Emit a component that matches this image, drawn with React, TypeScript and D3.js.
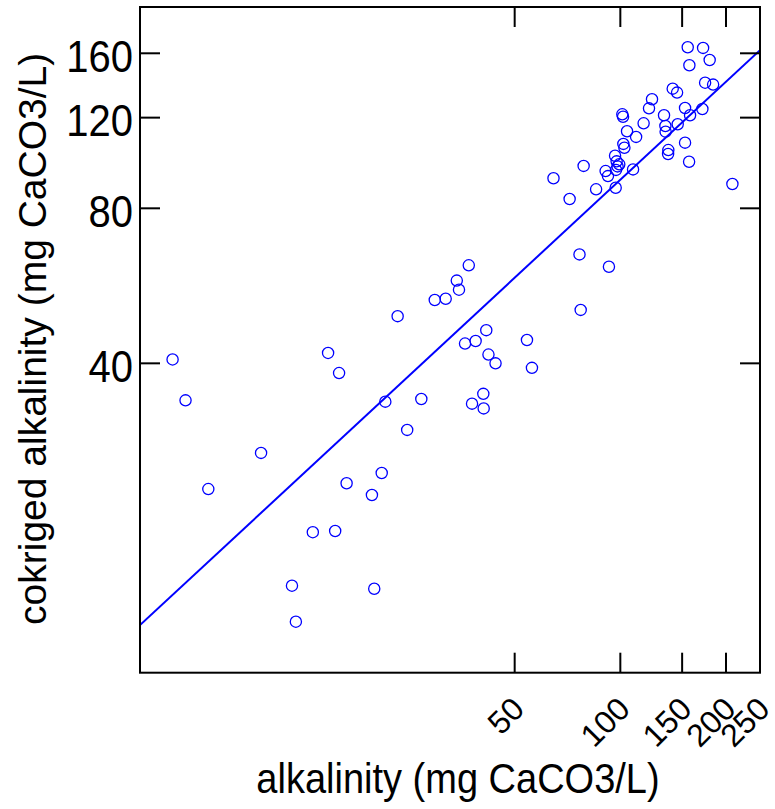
import React from 'react';
import * as d3 from 'd3';

// measured alkalinity (mg CaCO3/L)
const alkalinity = [
  5.30, 5.77, 6.70, 9.47, 14.7, 15.8, 21.4, 27.1, 24.7, 20.9,
  16.6, 19.6, 13.3, 15.4, 11.6, 19.9, 11.9, 23.2, 29.6, 31.8,
  34.2, 34.7, 37.0, 36.1, 38.7, 41.5, 42.1, 44.1, 54.2, 56.0,
  40.7, 37.8, 40.8, 76.5, 92.8, 77.1,
  155.6, 172.1, 179.7, 157.3, 174.4, 183.8, 141.0, 145.1, 123.1, 120.7,
  152.9, 171.3, 101.3, 101.8, 133.2, 158.0, 116.5, 145.7, 134.4, 134.6,
  104.5, 110.9, 102.0, 102.7, 152.9, 137.0, 136.8, 96.6, 97.6, 99.3,
  98.2, 90.8, 92.2, 97.2, 108.7, 78.6, 157.0, 64.5, 71.7, 85.3,
  97.0, 208.6,
];
// cokriged alkalinity (mg CaCO3/L)
const cokriged = [
  40.7, 33.9, 22.8, 26.8, 41.9, 38.3, 33.7, 34.1, 29.7, 24.5,
  23.4, 22.2, 18.8, 18.9, 14.8, 14.6, 12.6, 49.4, 53.1, 53.4,
  57.9, 55.6, 62.0, 43.7, 44.2, 46.4, 41.6, 40.0, 44.4, 39.2,
  34.9, 33.4, 32.7, 65.1, 61.6, 50.8,
  164.4, 163.9, 155.3, 151.7, 140.3, 139.1, 136.6, 134.2, 130.3, 125.1,
  125.3, 124.7, 121.8, 120.5, 121.3, 121.3, 117.0, 116.5, 115.6, 112.7,
  112.9, 110.1, 106.7, 104.9, 107.3, 103.8, 102.0, 101.2, 98.7, 97.4,
  96.5, 94.5, 92.4, 95.0, 95.2, 96.7, 98.5, 91.5, 83.4, 87.1,
  87.7, 89.2,
];

const xTicks = [50, 100, 150, 200, 250];
const yTicks = [40, 80, 120, 160];
const xDomain = [4.28, 250];
const yDomain = [10.03, 196.8];
// log10(cokriged) = fitIntercept + fitSlope * log10(alkalinity)
const fitIntercept = 0.6946;
const fitSlope = 0.632;

const xTitle = 'alkalinity (mg CaCO3/L)';
const yTitle = 'cokriged alkalinity (mg CaCO3/L)';

const FONT = '"Liberation Sans", Arial, Helvetica, sans-serif';
const BLUE = '#0000ff';

export default function App() {
  const W = 775;
  const H = 809;
  const L = 140, R = 760, T = 7, B = 672.7;
  const x = d3.scaleLog().domain(xDomain).range([L, R]);
  const y = d3.scaleLog().domain(yDomain).range([B, T]);
  const tick = 20;

  const fitPts = xDomain.map((v) => [v, Math.pow(10, fitIntercept + fitSlope * Math.log10(v))] as [number, number]);
  const line = d3.line<[number, number]>().x((d) => x(d[0])).y((d) => y(d[1]));

  const pts = alkalinity.map((a, i) => ({ a, c: cokriged[i] }));

  return (
    <svg width={W} height={H} style={{ position: 'absolute', left: 0, top: 0, background: '#fff' }} fontFamily={FONT}>
      <rect x={0} y={0} width={W} height={H} fill="#fff" />
      <defs>
        <clipPath id="plotclip">
          <rect x={L} y={T} width={R - L} height={B - T} />
        </clipPath>
      </defs>
      <g clipPath="url(#plotclip)">
        <path d={line(fitPts) || ''} stroke={BLUE} strokeWidth={2} fill="none" />
        {pts.map((p, i) => (
          <circle key={i} cx={x(p.a)} cy={y(p.c)} r={5.6} fill="none" stroke={BLUE} strokeWidth={1.3} />
        ))}
      </g>
      {xTicks.map((t) => (
        <g key={'xt' + t}>
          <line x1={x(t)} x2={x(t)} y1={B} y2={B - tick} stroke="#000" strokeWidth={2} />
          <line x1={x(t)} x2={x(t)} y1={T} y2={T + tick} stroke="#000" strokeWidth={2} />
          <text
            transform={`translate(${x(t) + 11.5},711) rotate(-45)`}
            textAnchor="end"
            fontSize={32}
            fill="#000"
          >
            {t}
          </text>
        </g>
      ))}
      {yTicks.map((t) => (
        <g key={'yt' + t}>
          <line x1={L} x2={L + tick} y1={y(t)} y2={y(t)} stroke="#000" strokeWidth={2} />
          <line x1={R} x2={R - tick} y1={y(t)} y2={y(t)} stroke="#000" strokeWidth={2} />
          <text
            transform={`translate(133,${y(t) + 18.5}) scale(1,1.1)`}
            textAnchor="end"
            fontSize={40}
            fill="#000"
          >
            {t}
          </text>
        </g>
      ))}
      <rect x={L} y={T} width={R - L} height={B - T} fill="none" stroke="#000" strokeWidth={2} />
      <text transform={`translate(458,793) scale(1,1.1)`} textAnchor="middle" fontSize={38} fill="#000">
        {xTitle}
      </text>
      <text transform={`translate(46,${(T + B) / 2 - 1}) rotate(-90)`} textAnchor="middle" fontSize={39} fill="#000">
        {yTitle}
      </text>
    </svg>
  );
}
